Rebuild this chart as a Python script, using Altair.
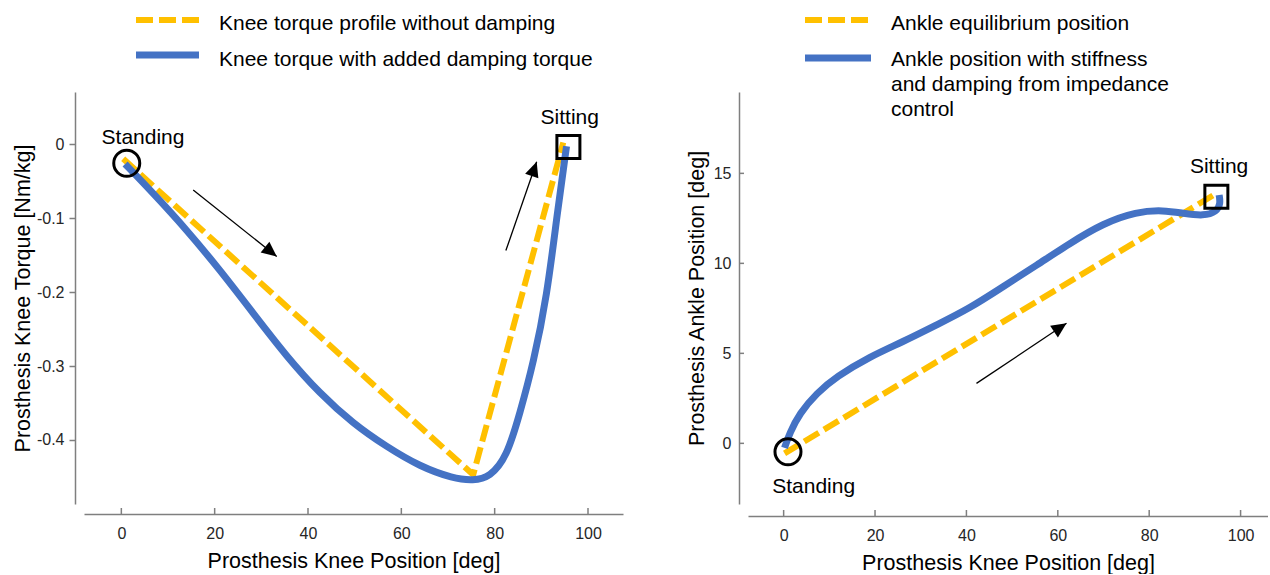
import math
import altair as alt
import pandas as pd

# ---------------- data ----------------
x_ticks = [0, 20, 40, 60, 80, 100]
knee_y_ticks = [0, -0.1, -0.2, -0.3, -0.4]
ankle_y_ticks = [0, 5, 10, 15]

# left panel: knee torque vs knee position
knee_ref_x = [0.4, 75.4, 94.7]
knee_ref_y = [-0.020, -0.447, 0.002]
knee_damp_x = [0.8, 6.9, 14.0, 21.1, 28.3, 35.4, 42.5, 49.7, 56.8, 64.0, 71.1,
               75.4, 79.0, 82.6, 85.4, 88.3, 91.2, 93.4, 95.4]
knee_damp_y = [-0.027, -0.067, -0.116, -0.170, -0.229, -0.287, -0.337, -0.378,
               -0.409, -0.436, -0.452, -0.455, -0.450, -0.423, -0.364, -0.296,
               -0.206, -0.094, -0.003]

# right panel: ankle position vs knee position
ankle_eq_x = [0.2, 94.7]
ankle_eq_y = [-0.56, 13.89]
ankle_imp_x = [0.2, 1.3, 3.5, 7.2, 11.5, 18.8, 26.1, 33.4, 40.7, 48.0, 55.4,
               62.6, 69.9, 77.2, 83.1, 87.5, 91.9, 94.8, 95.6, 95.3]
ankle_imp_y = [-0.25, 0.56, 1.67, 2.78, 3.70, 4.81, 5.64, 6.57, 7.50, 8.70,
               9.90, 11.11, 12.22, 12.87, 12.96, 12.78, 12.63, 12.87, 13.33, 13.80]

# annotations (data coordinates)
knee_standing = (1.16, -0.026)
knee_sitting = (95.8, -0.004)
knee_standing_lbl = (4.65, 0.0)
knee_sitting_lbl = (96.1, 0.0266)
knee_arrows = [((15.4, -0.062), (33.3, -0.152)), ((82.4, -0.144), (89.0, -0.024))]

ankle_standing = (0.95, -0.47)
ankle_sitting = (94.7, 13.7)
ankle_standing_lbl = (6.57, -2.78)
ankle_sitting_lbl = (95.3, 15.0)
ankle_arrows = [((42.2, 3.33), (61.9, 6.67))]

knee_legend = ["Knee torque profile without damping",
               "Knee torque with added damping torque"]
ankle_legend = ["Ankle equilibrium position",
                "Ankle position with stiffness",
                "and damping from impedance",
                "control"]

# ---------------- style ----------------
FONT = "Liberation Sans"
YEL = "#FFC000"
BLUE = "#4472C4"
AX = "#7f7f7f"
LBL = "#262626"
DASH = [17, 6]
H = 412
W1, W2 = 539, 520
XDOM1 = [-8.0, 107.5]
YDOM1 = [-0.4865, 0.0703]
XDOM2 = [-7.8, 106.0]
YDOM2 = [-3.37, 19.52]
TICK_FS = 16
TITLE_FS = 21.5


def one():
    return pd.DataFrame({"a": [0]})


def pxtext(txt, x, y, size=21, align="left"):
    return alt.Chart(pd.DataFrame({"t": [txt]})).mark_text(
        font=FONT, fontSize=size, color="black", align=align, baseline="alphabetic"
    ).encode(x=alt.value(x), y=alt.value(y), text="t:N")


def pxrule(x1, x2, y, color, width, dash=None):
    kw = dict(color=color, strokeWidth=width)
    if dash:
        kw["strokeDash"] = dash
    return alt.Chart(one()).mark_rule(**kw).encode(
        x=alt.value(x1), x2=alt.value(x2), y=alt.value(y))


def make_panel(W, xdom, ydom, ref_x, ref_y, imp_x, imp_y, interp, yticks, ytitle,
               xoff, yoff, y_inward, ytick_pad, ytitle_pad,
               standing, sitting, standing_lbl, sitting_lbl, arrows,
               legend_lines, legend_geo, anchor=False):
    xs = alt.Scale(domain=xdom, nice=False, zero=False)
    ys = alt.Scale(domain=ydom, nice=False, zero=False)
    xaxis = alt.Axis(values=x_ticks, offset=xoff, ticks=False, tickSize=0,
                     labelPadding=11, labelFontSize=TICK_FS, labelFont=FONT,
                     labelColor=LBL, labelFlush=False, domainColor=AX,
                     domainWidth=1.5, grid=False,
                     title="Prosthesis Knee Position [deg]", titleFont=FONT,
                     titleFontSize=TITLE_FS, titleFontWeight="normal",
                     titleColor="black", titlePadding=9)
    yaxis = alt.Axis(values=yticks, offset=yoff, ticks=not y_inward,
                     tickSize=0 if y_inward else 6, tickColor=AX, tickWidth=1.5,
                     labelPadding=ytick_pad, labelFontSize=TICK_FS, labelFont=FONT,
                     labelColor=LBL, labelExpr="toString(datum.value)",
                     domainColor=AX, domainWidth=1.5, grid=False,
                     title=ytitle, titleFont=FONT, titleFontSize=TITLE_FS,
                     titleFontWeight="normal", titleColor="black",
                     titlePadding=ytitle_pad)

    def X(f):
        return alt.X(f, scale=xs, axis=xaxis)

    def Y(f):
        return alt.Y(f, scale=ys, axis=yaxis)

    layers = []
    if anchor:
        layers.append(alt.Chart(one()).mark_rule(opacity=0, strokeWidth=0.5).encode(
            x=alt.value(-84), x2=alt.value(-80), y=alt.value(-92)))

    ref_df = pd.DataFrame({"x": ref_x, "y": ref_y, "i": list(range(len(ref_x)))})
    imp_df = pd.DataFrame({"x": imp_x, "y": imp_y, "i": list(range(len(imp_x)))})

    layers.append(alt.Chart(ref_df).mark_line(
        color=YEL, strokeWidth=6, strokeDash=DASH).encode(
        x=X("x:Q"), y=Y("y:Q"), order=alt.Order("i:Q")))
    layers.append(alt.Chart(imp_df).mark_line(
        color=BLUE, strokeWidth=7, interpolate=interp).encode(
        x=X("x:Q"), y=Y("y:Q"), order=alt.Order("i:Q")))

    # inward ticks
    xt_df = pd.DataFrame({"x": x_ticks})
    layers.append(alt.Chart(xt_df).mark_rule(color=AX, strokeWidth=1.5).encode(
        x=X("x:Q"), y=alt.value(H + xoff - 6), y2=alt.value(H + xoff)))
    if y_inward:
        yt_df = pd.DataFrame({"y": yticks})
        layers.append(alt.Chart(yt_df).mark_rule(color=AX, strokeWidth=1.5).encode(
            y=Y("y:Q"), x=alt.value(-yoff), x2=alt.value(-yoff + 5)))

    # markers
    st_df = pd.DataFrame({"x": [standing[0]], "y": [standing[1]]})
    si_df = pd.DataFrame({"x": [sitting[0]], "y": [sitting[1]]})
    layers.append(alt.Chart(st_df).mark_point(
        shape="circle", size=676, filled=False, stroke="black", strokeWidth=3,
        opacity=1).encode(x=X("x:Q"), y=Y("y:Q")))
    layers.append(alt.Chart(si_df).mark_point(
        shape="square", size=529, filled=False, stroke="black", strokeWidth=3,
        opacity=1).encode(x=X("x:Q"), y=Y("y:Q")))
    lbl_df = pd.DataFrame({"x": [standing_lbl[0], sitting_lbl[0]],
                           "y": [standing_lbl[1], sitting_lbl[1]],
                           "t": ["Standing", "Sitting"]})
    layers.append(alt.Chart(lbl_df).mark_text(
        font=FONT, fontSize=21, color="black", align="center",
        baseline="alphabetic").encode(x=X("x:Q"), y=Y("y:Q"), text="t:N"))

    # arrows
    rows = []
    for (sx, sy), (tx, ty) in arrows:
        dx = (tx - sx) * W / (xdom[1] - xdom[0])
        dy = -(ty - sy) * H / (ydom[1] - ydom[0])
        ang = math.degrees(math.atan2(dx, -dy)) % 360
        rows.append(dict(x=sx, y=sy, x2=tx, y2=ty, ang=ang))
    ar_df = pd.DataFrame(rows)
    layers.append(alt.Chart(ar_df).mark_rule(color="black", strokeWidth=1.3).encode(
        x=X("x:Q"), y=Y("y:Q"), x2="x2:Q", y2="y2:Q"))
    layers.append(alt.Chart(ar_df).mark_point(
        shape="M0,0L0.7,1.5L-0.7,1.5Z", filled=True, color="black", size=400,
        opacity=1, strokeWidth=0).encode(
        x=X("x2:Q"), y=Y("y2:Q"), angle=alt.Angle("ang:Q", scale=None)))

    # legend
    lx1, lx2, ly_ref, ly_imp, tx, tys = legend_geo
    layers.append(pxrule(lx1, lx2, ly_ref, YEL, 6, DASH))
    layers.append(pxrule(lx1, lx2, ly_imp, BLUE, 7))
    for line, ty in zip(legend_lines, tys):
        layers.append(pxtext(line, tx, ty))

    return alt.layer(*layers).properties(width=W, height=H)


p1 = make_panel(W1, XDOM1, YDOM1, knee_ref_x, knee_ref_y, knee_damp_x, knee_damp_y,
                "basis", knee_y_ticks, "Prosthesis Knee Torque [Nm/kg]",
                10, 9, False, 5, 2,
                knee_standing, knee_sitting, knee_standing_lbl, knee_sitting_lbl,
                knee_arrows, knee_legend,
                (52, 115, -72, -37, 135, [-62, -26]), anchor=True)
p2 = make_panel(W2, XDOM2, YDOM2, ankle_eq_x, ankle_eq_y, ankle_imp_x, ankle_imp_y,
                "basis", ankle_y_ticks, "Prosthesis Ankle Position [deg]",
                12, 9, True, 8, 5,
                ankle_standing, ankle_sitting, ankle_standing_lbl, ankle_sitting_lbl,
                ankle_arrows, ankle_legend,
                (57, 123, -72, -34, 143, [-62, -26, -1, 24]))

chart = alt.hconcat(p1, p2, spacing=125, bounds="flush").properties(
    padding=0).configure_view(stroke=None)

chart.save("out.html", embed_options={"renderer": "svg", "actions": False})
